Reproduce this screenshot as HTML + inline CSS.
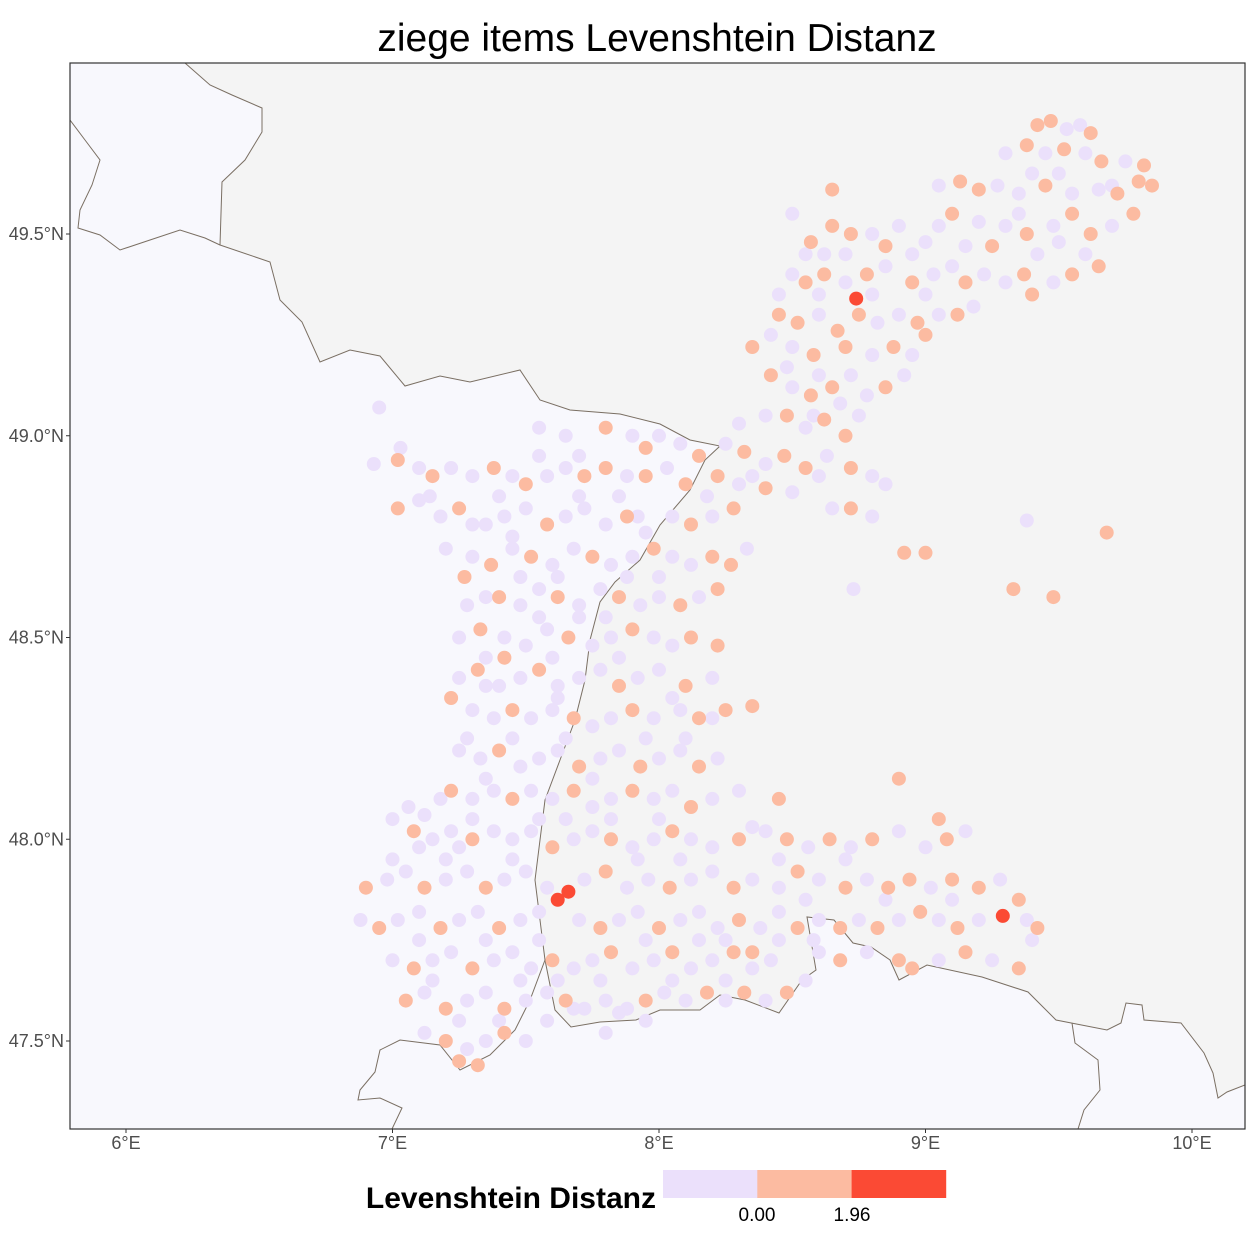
<!DOCTYPE html>
<html><head><meta charset="utf-8">
<style>
html,body{margin:0;padding:0;background:#fff;}
svg text{font-family:"Liberation Sans",sans-serif;}
</style></head>
<body>
<svg id="chart" width="1250" height="1250" viewBox="0 0 1250 1250" xmlns="http://www.w3.org/2000/svg">
<text x="657" y="51" font-size="39" text-anchor="middle" fill="#000">ziege items Levenshtein Distanz</text>
<defs><clipPath id="clip"><rect x="70" y="63" width="1175" height="1066"/></clipPath></defs>
<rect x="70" y="63" width="1175" height="1066" fill="#f8f8fd"/>
<g clip-path="url(#clip)" id="mapg">
<polygon fill="#f4f4f4" stroke="#7a6f63" stroke-width="1"
points="185,63 210,85 232,95 262,108 262,132 245,160 222,182 220,245 270,262 280,300 302,322 320,362 350,350 380,356 405,386 440,376 470,382 520,370 540,400 570,410 620,414 660,424 690,440 720,446 705,460 690,490 660,525 640,560 615,582 600,602 590,640 585,680 575,720 560,760 545,800 540,840 535,880 540,920 545,960 555,1010 571,1027 600,1022 636,1020 660,1010 700,1010 720,995 745,1000 779,1013 802,980 816,970 807,917 834,920 853,943 871,947 890,960 899,980 927,965 982,977 1028,992 1056,1020 1107,1030 1121,1023 1126,1003 1142,1005 1144,1020 1181,1023 1204,1053 1213,1073 1218,1098 1227,1092 1245,1085 1245,63"/>
<polyline fill="none" stroke="#7a6f63" stroke-width="1"
points="70,120 85,140 100,160 92,185 80,210 78,228 100,235 120,250 150,240 180,230 205,238 220,245"/>
<polyline fill="none" stroke="#7a6f63" stroke-width="1"
points="545,960 530,1000 515,1030 490,1055 460,1070 440,1045 400,1040 380,1050 375,1072 360,1090 358,1100 380,1098 402,1108 392,1129"/>
<polyline fill="none" stroke="#7a6f63" stroke-width="1"
points="1072,1023 1075,1043 1098,1060 1100,1090 1084,1110 1078,1129"/>
<g id="points"></g>
</g>
<rect x="70" y="63" width="1175" height="1066" fill="none" stroke="#333" stroke-width="1.2"/>
<g id="axes"></g>
<text x="656" y="1208" font-size="30" font-weight="bold" text-anchor="end" fill="#000">Levenshtein Distanz</text>
<g id="legend"></g>
</svg>
<script>
const xTicks = [6, 7, 8, 9, 10];
const xTickLabels = ["6°E", "7°E", "8°E", "9°E", "10°E"];
const yTicks = [49.5, 49.0, 48.5, 48.0, 47.5];
const yTickLabels = ["49.5°N", "49.0°N", "48.5°N", "48.0°N", "47.5°N"];
const legendLabels = ["0.00", "1.96"];
const binColors = ["#ebe0fb", "#fcbba1", "#fb4a34"];
// [lon, lat, distance class]
const points = [
[9.42,49.77,1],[9.47,49.78,1],[9.53,49.76,0],[9.58,49.77,0],[9.62,49.75,1],
[9.3,49.7,0],[9.38,49.72,1],[9.45,49.7,0],[9.52,49.71,1],[9.6,49.7,0],[9.66,49.68,1],[9.75,49.68,0],[9.82,49.67,1],
[9.05,49.62,0],[9.13,49.63,1],[9.2,49.61,1],[9.27,49.62,0],[9.35,49.6,0],[9.45,49.62,1],[9.55,49.6,0],[9.65,49.61,0],[9.72,49.6,1],[9.8,49.63,1],[9.85,49.62,1],[8.65,49.61,1],
[8.5,49.55,0],[8.65,49.52,1],[8.72,49.5,1],[8.8,49.5,0],[8.9,49.52,0],[9.1,49.55,1],[9.2,49.53,0],[9.3,49.52,0],[9.38,49.5,1],[9.48,49.52,0],[9.55,49.55,1],[9.62,49.5,1],[9.7,49.52,0],[9.78,49.55,1],[8.57,49.48,1],[8.62,49.45,0],[8.85,49.47,1],[9.0,49.48,0],[9.25,49.47,1],[9.42,49.45,0],[9.6,49.45,0],[9.65,49.42,1],
[8.5,49.4,0],[8.55,49.38,1],[8.62,49.4,1],[8.7,49.38,0],[8.78,49.4,1],[8.85,49.42,0],[8.95,49.38,1],[9.03,49.4,0],[9.1,49.42,0],[9.15,49.38,1],[9.22,49.4,0],[9.3,49.38,0],[9.37,49.4,1],[9.48,49.38,0],[9.55,49.4,1],[9.18,49.32,0],[9.12,49.3,1],[9.4,49.35,1],
[8.45,49.3,1],[8.52,49.28,1],[8.6,49.3,0],[8.67,49.26,1],[8.75,49.3,1],[8.82,49.28,0],[8.9,49.3,0],[8.97,49.28,1],[9.05,49.3,0],[8.7,49.22,1],[8.8,49.2,0],[8.88,49.22,1],[8.95,49.2,0],[8.58,49.2,1],[8.5,49.22,0],[9.0,49.25,1],
[8.35,49.22,1],[8.42,49.25,0],[8.45,49.35,0],[8.55,49.45,0],[8.48,49.17,0],
[8.42,49.15,1],[8.5,49.12,0],[8.57,49.1,1],[8.65,49.12,1],[8.72,49.15,0],[8.78,49.1,0],[8.85,49.12,1],[8.92,49.15,0],[8.4,49.05,0],[8.48,49.05,1],[8.55,49.02,0],[8.62,49.04,1],[8.7,49.0,1],[8.75,49.05,0],
[8.25,48.98,0],[8.32,48.96,1],[8.4,48.93,0],[8.47,48.95,1],[8.55,48.92,1],[8.63,48.95,0],[8.72,48.92,1],[8.8,48.9,0],[8.85,48.88,0],[8.15,48.95,1],[8.22,48.9,1],[8.3,48.88,0],[8.4,48.87,1],[8.5,48.86,0],[8.65,48.82,0],[8.72,48.82,1],[8.8,48.8,0],
[8.92,48.71,1],[9.0,48.71,1],[9.33,48.62,1],[9.48,48.6,1],[9.68,48.76,1],[9.38,48.79,0],[8.73,48.62,0],
[7.55,49.02,0],[7.65,49.0,0],[7.8,49.02,1],[7.9,49.0,0],[7.95,48.97,1],[8.0,49.0,0],[8.08,48.98,0],[6.95,49.07,0],[7.03,48.97,0],
[6.93,48.93,0],[7.02,48.94,1],[7.1,48.92,0],[7.15,48.9,1],[7.22,48.92,0],[7.3,48.9,0],[7.38,48.92,1],[7.45,48.9,0],[7.5,48.88,1],[7.58,48.9,0],[7.65,48.92,0],[7.72,48.9,1],[7.8,48.92,1],[7.88,48.9,0],[7.95,48.9,1],[8.03,48.92,0],[8.1,48.88,1],[8.18,48.85,0],
[7.02,48.82,1],[7.1,48.84,0],[7.18,48.8,0],[7.25,48.82,1],[7.35,48.78,0],[7.42,48.8,0],[7.5,48.82,0],[7.58,48.78,1],[7.65,48.8,0],[7.72,48.82,0],[7.8,48.78,0],[7.88,48.8,1],[7.95,48.76,0],[8.05,48.8,0],[8.12,48.78,1],[8.2,48.8,0],[8.28,48.82,1],
[7.3,48.7,0],[7.37,48.68,1],[7.45,48.72,0],[7.52,48.7,1],[7.6,48.68,0],[7.68,48.72,0],[7.75,48.7,1],[7.82,48.68,0],[7.9,48.7,0],[7.98,48.72,1],[8.05,48.7,0],[8.12,48.68,0],[8.2,48.7,1],[8.27,48.68,1],[8.33,48.72,0],[7.27,48.65,1],[7.35,48.6,0],
[7.28,48.58,0],[7.4,48.6,1],[7.48,48.58,0],[7.55,48.62,0],[7.62,48.6,1],[7.7,48.58,0],[7.78,48.62,0],[7.85,48.6,1],[7.93,48.58,0],[8.0,48.6,0],[8.08,48.58,1],[8.15,48.6,0],[8.22,48.62,1],[7.25,48.5,0],[7.33,48.52,1],[7.42,48.5,0],[7.5,48.48,0],[7.58,48.52,0],[7.66,48.5,1],[7.75,48.48,0],[7.82,48.5,0],[7.9,48.52,1],[7.98,48.5,0],[8.05,48.48,0],[8.12,48.5,1],[8.22,48.48,1],
[7.25,48.4,0],[7.32,48.42,1],[7.4,48.38,0],[7.48,48.4,0],[7.55,48.42,1],[7.62,48.38,0],[7.7,48.4,0],[7.78,48.42,0],[7.85,48.38,1],[7.92,48.4,0],[8.0,48.42,0],[8.1,48.38,1],[8.2,48.4,0],[7.22,48.35,1],[7.3,48.32,0],[7.38,48.3,0],[7.45,48.32,1],[7.52,48.3,0],[7.6,48.32,0],[7.68,48.3,1],[7.75,48.28,0],[7.82,48.3,0],[7.9,48.32,1],[7.98,48.3,0],[8.08,48.32,0],[8.15,48.3,1],[8.25,48.32,1],[8.35,48.33,1],
[7.25,48.22,0],[7.33,48.2,0],[7.4,48.22,1],[7.48,48.18,0],[7.55,48.2,0],[7.62,48.22,0],[7.7,48.18,1],[7.78,48.2,0],[7.85,48.22,0],[7.93,48.18,1],[8.0,48.2,0],[8.08,48.22,0],[8.15,48.18,1],[8.22,48.2,0],[7.22,48.12,1],[7.3,48.1,0],[7.38,48.12,0],[7.45,48.1,1],[7.52,48.12,0],[7.6,48.1,0],[7.68,48.12,1],[7.75,48.08,0],[7.82,48.1,0],[7.9,48.12,1],[7.98,48.1,0],[8.05,48.12,0],[8.12,48.08,1],[8.2,48.1,0],[8.3,48.12,0],[8.35,48.03,0],[8.45,48.1,1],
[7.0,48.05,0],[7.08,48.02,1],[7.15,48.0,0],[7.22,48.02,0],[7.3,48.0,1],[7.38,48.02,0],[7.45,48.0,0],[7.52,48.02,0],[7.6,47.98,1],[7.68,48.0,0],[7.75,48.02,0],[7.82,48.0,1],[7.9,47.98,0],[7.98,48.0,0],[8.05,48.02,1],[8.12,48.0,0],[8.2,47.98,0],[8.3,48.0,1],[8.4,48.02,0],[8.48,48.0,1],[8.56,47.98,0],[8.64,48.0,1],[8.72,47.98,0],[8.8,48.0,1],[8.9,48.02,0],[9.0,47.98,0],[9.08,48.0,1],[9.15,48.02,0],[8.9,48.15,1],
[6.9,47.88,1],[6.98,47.9,0],[7.05,47.92,0],[7.12,47.88,1],[7.2,47.9,0],[7.28,47.92,0],[7.35,47.88,1],[7.42,47.9,0],[7.5,47.92,0],[7.58,47.88,0],[7.72,47.9,0],[7.8,47.92,1],[7.88,47.88,0],[7.96,47.9,0],[8.04,47.88,1],[8.12,47.9,0],[8.2,47.92,0],[8.28,47.88,1],[8.35,47.9,0],[8.45,47.88,0],[8.52,47.92,1],[8.6,47.9,0],[8.7,47.88,1],[8.78,47.9,0],[8.86,47.88,1],[8.94,47.9,1],[9.02,47.88,0],[9.1,47.9,1],[9.2,47.88,1],[9.28,47.9,0],[9.35,47.85,1],
[6.88,47.8,0],[6.95,47.78,1],[7.02,47.8,0],[7.1,47.82,0],[7.18,47.78,1],[7.25,47.8,0],[7.32,47.82,0],[7.4,47.78,1],[7.48,47.8,0],[7.55,47.82,0],[7.7,47.8,0],[7.78,47.78,1],[7.85,47.8,0],[7.92,47.82,0],[8.0,47.78,1],[8.08,47.8,0],[8.15,47.82,0],[8.22,47.78,0],[8.3,47.8,1],[8.38,47.78,0],[8.45,47.82,0],[8.52,47.78,1],[8.6,47.8,0],[8.68,47.78,1],[8.75,47.8,0],[8.82,47.78,1],[8.9,47.8,0],[8.98,47.82,1],[9.05,47.8,0],[9.12,47.78,1],[9.2,47.8,0],[9.38,47.8,0],[9.42,47.78,1],[9.4,47.75,0],
[7.0,47.7,0],[7.08,47.68,1],[7.15,47.7,0],[7.22,47.72,0],[7.3,47.68,1],[7.38,47.7,0],[7.45,47.72,0],[7.52,47.68,0],[7.6,47.7,1],[7.68,47.68,0],[7.75,47.7,0],[7.82,47.72,1],[7.9,47.68,0],[7.98,47.7,0],[8.05,47.72,1],[8.12,47.68,0],[8.2,47.7,0],[8.28,47.72,1],[8.35,47.68,0],[8.42,47.7,0],[8.6,47.72,0],[8.68,47.7,1],[8.78,47.72,0],[8.9,47.7,1],[8.95,47.68,1],[9.05,47.7,0],[9.15,47.72,1],[9.25,47.7,0],[9.35,47.68,1],
[7.05,47.6,1],[7.12,47.62,0],[7.2,47.58,1],[7.28,47.6,0],[7.35,47.62,0],[7.42,47.58,1],[7.5,47.6,0],[7.58,47.62,0],[7.65,47.6,1],[7.72,47.58,0],[7.8,47.6,0],[7.88,47.58,0],[7.95,47.6,1],[8.02,47.62,0],[8.1,47.6,0],[8.18,47.62,1],[8.25,47.6,0],[8.32,47.62,1],[8.4,47.6,0],[8.48,47.62,1],[8.55,47.65,0],[7.12,47.52,0],[7.2,47.5,1],[7.28,47.48,0],[7.35,47.5,0],[7.42,47.52,1],[7.5,47.5,0],[7.58,47.55,0],[7.25,47.45,1],[7.32,47.44,1],[7.85,47.57,0],[7.95,47.55,0],
[7.14,48.85,0],[7.45,48.75,0],[7.55,48.55,0],[7.35,48.45,0],[7.6,48.45,0],[7.45,48.25,0],[7.65,48.25,0],[7.35,48.15,0],[7.55,48.05,0],[7.85,48.45,0],[7.95,48.25,0],[7.75,48.15,0],[8.05,48.35,0],[7.2,47.95,0],[7.45,47.95,0],[7.1,47.75,0],[7.35,47.75,0],[7.95,47.75,0],[8.25,47.75,0],[8.55,47.85,0],[8.85,47.85,0],[7.8,48.55,0],[8.0,48.65,0],[7.7,48.85,0],[8.95,49.45,0],[9.35,49.55,0],[9.0,49.35,0],[8.6,49.15,0],
[7.06,48.08,0],[7.12,48.06,0],[7.18,48.1,0],[7.1,47.98,0],[7.0,47.95,0],[7.25,47.98,0],[7.3,48.05,0],[7.28,48.25,0],[7.35,48.38,0],[7.42,48.45,1],[7.48,48.65,0],[7.62,48.65,0],[7.4,48.85,0],[7.55,48.95,0],[7.7,48.95,0],[7.85,48.85,0],[7.92,48.8,0],[7.62,48.35,0],[7.7,48.55,0],[7.88,48.65,0],[7.65,48.05,0],[7.82,48.05,0],[7.92,47.95,0],[8.08,47.95,0],[8.15,47.75,0],[8.35,47.72,1],[8.45,47.75,0],[8.58,47.75,0],[7.48,47.65,0],[7.62,47.65,0],[7.78,47.65,0],[7.55,47.75,0],[7.15,47.65,0],[7.25,47.55,0],[7.4,47.55,0],[7.68,47.58,0],[7.8,47.52,0],[8.25,47.65,0],[8.05,47.65,0],[8.7,47.95,0],[8.45,47.95,0],[9.05,48.05,1],[9.1,47.85,0],[8.0,48.05,0],[8.1,48.25,0],[8.2,48.3,0],[7.3,48.78,0],[7.2,48.72,0],[8.6,49.35,0],[8.8,49.35,0],[8.7,49.45,0],[9.05,49.52,0],[9.15,49.47,0],[9.5,49.48,0],[9.7,49.62,0],[9.5,49.65,0],[9.4,49.65,0],[8.58,49.05,0],[8.68,49.08,0],[8.3,49.03,0],[8.35,48.9,0],[8.6,48.9,0]
];
// highlighted (dark red) points drawn last
points.push([8.74,49.34,2],[7.66,47.87,2],[7.62,47.85,2],[9.29,47.81,2]);

const SVGNS = "http://www.w3.org/2000/svg";
function xScale(lon){ return 126 + (lon - 6) * 266.5; }
function yScale(lat){ return 234 + (49.5 - lat) * 403.5; }
function colorOf(v){ return binColors[Math.max(0, Math.min(2, Math.round(v)))]; }

const pg = document.getElementById('points');
const order = points.slice().sort((a,b)=>a[2]-b[2]);
order.forEach(p=>{
  const c = document.createElementNS(SVGNS,'circle');
  c.setAttribute('cx', xScale(p[0]).toFixed(1));
  c.setAttribute('cy', yScale(p[1]).toFixed(1));
  c.setAttribute('r', 7);
  c.setAttribute('fill', colorOf(p[2]));
  
  
  pg.appendChild(c);
});

const ag = document.getElementById('axes');
xTicks.forEach((t,i)=>{
  const x = xScale(t);
  const l = document.createElementNS(SVGNS,'line');
  l.setAttribute('x1',x); l.setAttribute('x2',x); l.setAttribute('y1',1129); l.setAttribute('y2',1133);
  l.setAttribute('stroke','#333');
  
  
  ag.appendChild(l);
  const tx = document.createElementNS(SVGNS,'text');
  tx.setAttribute('x',x); tx.setAttribute('y',1149); tx.setAttribute('font-size','18');
  tx.setAttribute('text-anchor','middle'); tx.setAttribute('fill','#4d4d4d');
  tx.textContent = xTickLabels[i];
  
  
  ag.appendChild(tx);
});
yTicks.forEach((t,i)=>{
  const y = yScale(t);
  const l = document.createElementNS(SVGNS,'line');
  l.setAttribute('x1',66); l.setAttribute('x2',70); l.setAttribute('y1',y); l.setAttribute('y2',y);
  l.setAttribute('stroke','#333');
  
  
  ag.appendChild(l);
  const tx = document.createElementNS(SVGNS,'text');
  tx.setAttribute('x',64); tx.setAttribute('y',y+6); tx.setAttribute('font-size','18');
  tx.setAttribute('text-anchor','end'); tx.setAttribute('fill','#4d4d4d');
  tx.textContent = yTickLabels[i];
  
  
  ag.appendChild(tx);
});

const lg = document.getElementById('legend');
binColors.forEach((c,i)=>{
  const r = document.createElementNS(SVGNS,'rect');
  r.setAttribute('x', 663 + i*94.3); r.setAttribute('y', 1170);
  r.setAttribute('width', 94.6); r.setAttribute('height', 28);
  r.setAttribute('fill', c);
  
  
  lg.appendChild(r);
});
legendLabels.forEach((s,i)=>{
  const tx = document.createElementNS(SVGNS,'text');
  tx.setAttribute('x', 757 + i*95); tx.setAttribute('y', 1221);
  tx.setAttribute('font-size','19'); tx.setAttribute('text-anchor','middle'); tx.setAttribute('fill','#000');
  tx.textContent = s;
  
  
  lg.appendChild(tx);
});
</script>
</body></html>
